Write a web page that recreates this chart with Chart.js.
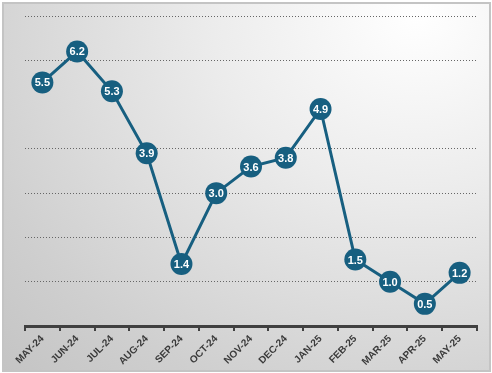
<!DOCTYPE html>
<html>
<head>
<meta charset="utf-8">
<script src="https://cdn.jsdelivr.net/npm/chart.js@4/dist/chart.umd.min.js"></script>
<style>
  html, body { margin: 0; padding: 0; background: #fff; }
  .frame {
    position: absolute; left: 2px; top: 2px; width: 485px; height: 366px;
    border: 2px solid #c4c4c4;
    background: radial-gradient(ellipse at 85% 3%, #ffffff 0%, #ececec 35%, #cfcfcf 80%, #c4c4c4 100%);
  }
  .chart_container { position: absolute; left: 0; top: 0; width: 492px; height: 373px; }
</style>
</head>
<body>
<div class="frame"></div>
<div class="chart_container"><canvas id="myChart" width="492" height="373"></canvas></div>
<script>
const months = ['MAY-24', 'JUN-24', 'JUL-24', 'AUG-24', 'SEP-24', 'OCT-24', 'NOV-24',
    'DEC-24', 'JAN-25', 'FEB-25', 'MAR-25', 'APR-25', 'MAY-25'];
const rates = [5.5, 6.2, 5.3, 3.9, 1.4, 3.0, 3.6, 3.8, 4.9, 1.5, 1.0, 0.5, 1.2];

let lineColor = '#175f80', labelFont = "'Liberation Sans Narrow', 'Liberation Sans', Arial, sans-serif";

// white value text inside each marker
const valueLabels = {
    id: 'valueLabels',
    afterDatasetsDraw(chart) {
        const ctx = chart.ctx;
        const meta = chart.getDatasetMeta(0);
        ctx.save();
        ctx.fillStyle = '#fff';
        ctx.font = 'bold 11px ' + labelFont;
        ctx.textAlign = 'center';
        ctx.textBaseline = 'middle';
        meta.data.forEach((pt, i) => {
            ctx.fillText(rates[i].toFixed(1), pt.x, pt.y + 1);
        });
        ctx.restore();
    }
};

const data = {
    labels: months,
    datasets: [{
        data: rates,
        borderColor: lineColor,
        borderWidth: 3,
        pointRadius: 11,
        pointHoverRadius: 11,
        pointBackgroundColor: lineColor,
        pointBorderColor: lineColor,
        pointBorderWidth: 0,
        tension: 0
    }]
};

const config = {
    type: 'line',
    data,
    plugins: [valueLabels],
    options: {
        responsive: false,
        animation: false,
        layout: { padding: { left: 25, right: 15, top: 16, bottom: 0 } },
        plugins: {
            legend: { display: false },
            tooltip: { enabled: false }
        },
        scales: {
            x: {
                offset: true,
                grid: {
                    offset: true,
                    drawOnChartArea: false,
                    color: '#404040',
                    lineWidth: 2,
                    tickLength: 5
                },
                border: { display: true, color: '#404040', width: 3 },
                ticks: {
                    color: '#3a3a3a',
                    font: { family: labelFont, size: 10, weight: 'bold' },
                    minRotation: 45,
                    maxRotation: 45,
                    padding: 2,
                    autoSkip: false
                },
                afterFit(scale) { scale.height = 47; }
            },
            y: {
                min: 0,
                max: 7,
                ticks: { display: false, stepSize: 1 },
                border: { display: false, dash: [1, 2] },
                grid: {
                    drawTicks: false,
                    color: ctx => (ctx.tick && (ctx.tick.value === 0 || ctx.tick.value === 5)) ? 'rgba(0,0,0,0)' : '#666',
                    lineWidth: 1
                },
                afterFit(scale) { scale.width = 0; }
            }
        }
    }
};

const myChart = new Chart(document.getElementById('myChart'), config);
</script>
</body>
</html>
